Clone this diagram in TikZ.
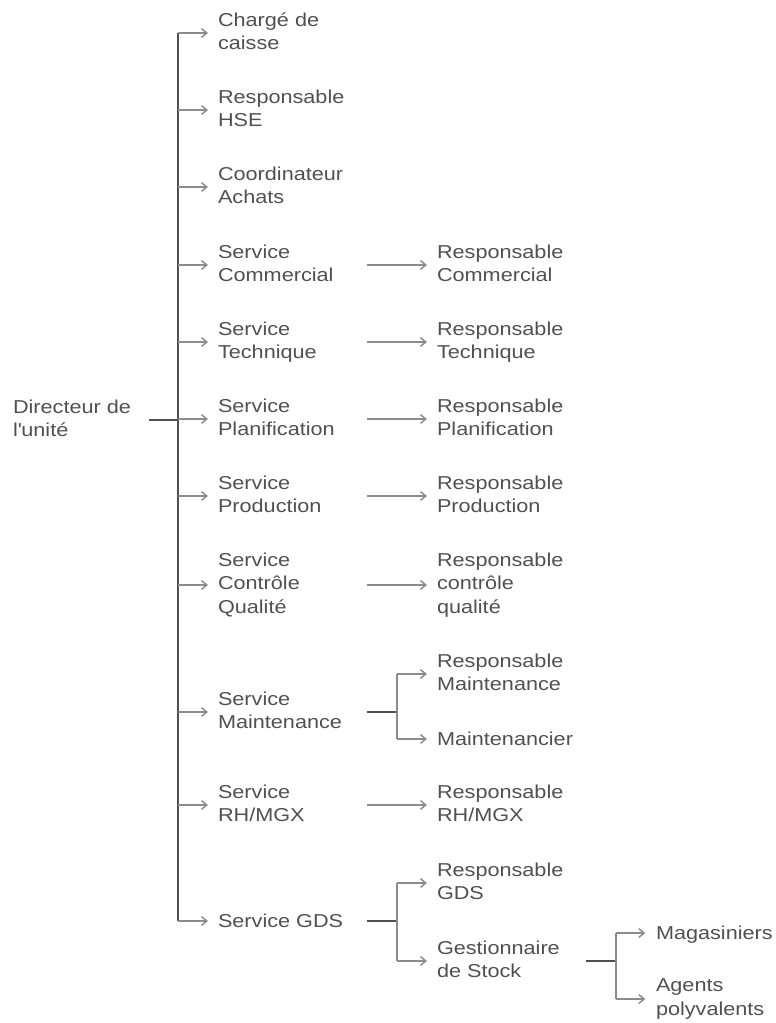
\documentclass[tikz,border=0pt]{standalone}
\usepackage{fontspec}
\setmainfont{Liberation Sans}[FakeStretch=1.16]
\usetikzlibrary{arrows.meta}
\definecolor{txtgray}{HTML}{505050}
\definecolor{stemgray}{HTML}{505050}
\definecolor{arrgray}{HTML}{8C8C8C}
\newcommand{\lstrut}{\rule[-2.96pt]{0pt}{15.56pt}}
\begin{document}
\begin{tikzpicture}[x=0.75pt,y=-0.75pt,
  lbl/.style={anchor=west,inner sep=0pt,outer sep=0pt,align=left,text=txtgray,
    font=\fontsize{14pt}{17.5pt}\selectfont,
    execute at begin node=\lstrut, execute at end node=\lstrut},
  stem/.style={draw=stemgray,line width=1.2pt},
  arr/.style={draw=arrgray,line width=1.1pt,-{Straight Barb[length=4pt,width=6.5pt]}},
  brk/.style={draw=arrgray,line width=1.1pt}]
\useasboundingbox (0,0) rectangle (775,1023);
% columns
\coordinate (tx) at (178,0);
\coordinate (s2) at (367,0);
\coordinate (b2) at (397,0);
\coordinate (s3) at (586,0);
\coordinate (b3) at (616,0);
% root
\node[lbl] (root) at (13,420) {Directeur de\\l\textquotesingle unité};
% level 1
\node[lbl] (c1) at (218,33) {Chargé de\\caisse};
\node[lbl] (c2) at (218,110) {Responsable\\HSE};
\node[lbl] (c3) at (218,187) {Coordinateur\\Achats};
\node[lbl] (c4) at (218,265) {Service\\Commercial};
\node[lbl] (c5) at (218,342) {Service\\Technique};
\node[lbl] (c6) at (218,419) {Service\\Planification};
\node[lbl] (c7) at (218,496) {Service\\Production};
\node[lbl] (c8) at (218,585) {Service\\Contrôle\\Qualité};
\node[lbl] (c9) at (218,712) {Service\\Maintenance};
\node[lbl] (c10) at (218,805) {Service\\RH/MGX};
\node[lbl] (c11) at (218,921) {Service GDS};
% level 2
\node[lbl] (r4) at (437,265) {Responsable\\Commercial};
\node[lbl] (r5) at (437,342) {Responsable\\Technique};
\node[lbl] (r6) at (437,419) {Responsable\\Planification};
\node[lbl] (r7) at (437,496) {Responsable\\Production};
\node[lbl] (r8) at (437,585) {Responsable\\contrôle\\qualité};
\node[lbl] (r9a) at (437,674) {Responsable\\Maintenance};
\node[lbl] (r9b) at (437,739) {Maintenancier};
\node[lbl] (r10) at (437,805) {Responsable\\RH/MGX};
\node[lbl] (r11a) at (437,883) {Responsable\\GDS};
\node[lbl] (r11b) at (437,961) {Gestionnaire\\de Stock};
% level 3
\node[lbl] (m1) at (656,933) {Magasiniers};
\node[lbl] (m2) at (656,999) {Agents\\polyvalents};
% trunk
\draw[stem] ([xshift=13.5pt]root.east) -- (root.east -| tx);
\draw[stem] (c1.west -| tx) -- (c11.west -| tx);
\foreach \n in {c1,c2,c3,c4,c5,c6,c7,c8,c9,c10,c11}
  \draw[arr] (\n.west -| tx) -- ([xshift=-7.5pt]\n.west);
% single level-2 arrows
\foreach \a/\b in {c4/r4,c5/r5,c6/r6,c7/r7,c8/r8,c10/r10}
  \draw[arr] (\a.west -| s2) -- ([xshift=-7.5pt]\b.west);
% maintenance bracket
\draw[stem] (c9.west -| s2) -- (c9.west -| b2);
\draw[brk] (r9a.west -| b2) -- (r9b.west -| b2);
\draw[arr] (r9a.west -| b2) -- ([xshift=-7.5pt]r9a.west);
\draw[arr] (r9b.west -| b2) -- ([xshift=-7.5pt]r9b.west);
% GDS bracket
\draw[stem] (c11.west -| s2) -- (c11.west -| b2);
\draw[brk] (r11a.west -| b2) -- (r11b.west -| b2);
\draw[arr] (r11a.west -| b2) -- ([xshift=-7.5pt]r11a.west);
\draw[arr] (r11b.west -| b2) -- ([xshift=-7.5pt]r11b.west);
% stock bracket
\draw[stem] (r11b.west -| s3) -- (r11b.west -| b3);
\draw[brk] (m1.west -| b3) -- (m2.west -| b3);
\draw[arr] (m1.west -| b3) -- ([xshift=-8pt]m1.west);
\draw[arr] (m2.west -| b3) -- ([xshift=-8pt]m2.west);
\end{tikzpicture}
\end{document}
